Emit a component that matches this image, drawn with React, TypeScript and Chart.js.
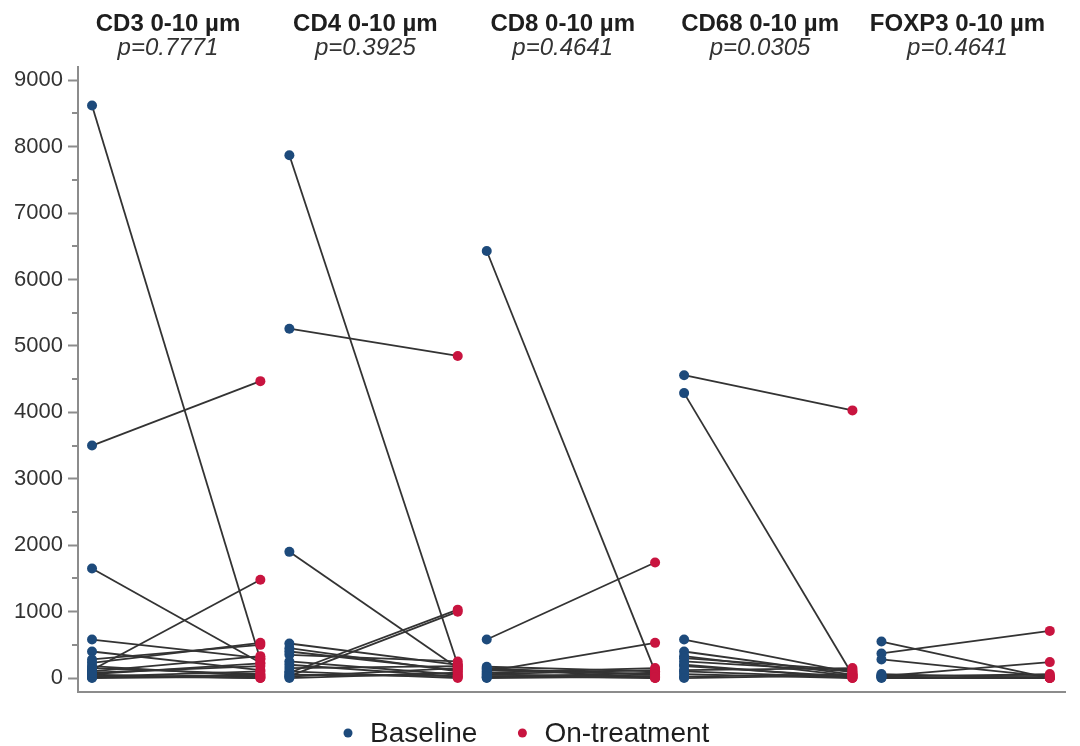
import React, { useEffect, useRef } from "react";
import { Chart, registerables } from "chart.js";

Chart.register(...registerables);

const panelTitles = ["CD3 0-10 µm", "CD4 0-10 µm", "CD8 0-10 µm", "CD68 0-10 µm", "FOXP3 0-10 µm"];
const pValues = ["p=0.7771", "p=0.3925", "p=0.4641", "p=0.0305", "p=0.4641"];
const legendLabels = ["Baseline", "On-treatment"];
const yTickValues = [0, 500, 1000, 1500, 2000, 2500, 3000, 3500, 4000, 4500, 5000, 5500, 6000, 6500, 7000, 7500, 8000, 8500, 9000];

const cd3Baseline = [8620, 3500, 1650, 580, 400, 120, 230, 180, 100, 60, 30, 20, 10, 0, 50, 150, 280, 80];
const cd3OnTreatment = [280, 4470, 230, 300, 120, 1480, 530, 30, 330, 220, 0, 100, 50, 20, 0, 60, 500, 180];

const cd4Baseline = [7870, 5260, 1900, 80, 30, 520, 450, 350, 250, 150, 100, 50, 20, 0, 200, 400];
const cd4OnTreatment = [200, 4850, 150, 1030, 1000, 200, 100, 250, 50, 180, 0, 30, 150, 80, 20, 120];

const cd8Baseline = [6430, 580, 100, 170, 120, 80, 50, 30, 10, 0, 150, 60, 140, 20];
const cd8OnTreatment = [100, 1740, 530, 100, 60, 150, 30, 0, 80, 20, 0, 120, 50, 10];

const cd68Baseline = [4560, 4290, 580, 400, 330, 250, 180, 120, 60, 20, 100, 0, 300, 200];
const cd68OnTreatment = [4030, 50, 80, 50, 30, 100, 20, 150, 0, 60, 10, 40, 120, 0];

const foxp3Baseline = [550, 370, 280, 30, 60, 0, 20, 10, 40];
const foxp3OnTreatment = [0, 710, 20, 240, 0, 0, 60, 0, 30];

const baselineSeries = [cd3Baseline, cd4Baseline, cd8Baseline, cd68Baseline, foxp3Baseline];
const onTreatmentSeries = [cd3OnTreatment, cd4OnTreatment, cd8OnTreatment, cd68OnTreatment, foxp3OnTreatment];

const BLUE = "#1d4a7b";
const RED = "#c8143f";
const LINE = "#333333";
const AXIS = "#8c8c8c";
const TEXT = "#1e1e1e";
const FONT = "'Liberation Sans', Arial, sans-serif";
const ON_OFFSET = 0.853;
const TITLE_OFFSET = 0.385;

const isMajor = (v: number) => v >= 0 && v <= 9000 && v % 1000 === 0;

export default function App() {
  const canvasRef = useRef<HTMLCanvasElement | null>(null);

  useEffect(() => {
    document.body.style.margin = "0";
    const canvas = canvasRef.current;
    if (!canvas) return;

    const datasets: any[] = [];
    const basePts: any[] = [];
    const onPts: any[] = [];
    baselineSeries.forEach((arr, i) => {
      arr.forEach((b, j) => {
        basePts.push({ x: i, y: b });
        onPts.push({ x: i + ON_OFFSET, y: onTreatmentSeries[i][j] });
      });
    });
    datasets.push({
      label: legendLabels[0],
      data: basePts,
      backgroundColor: BLUE,
      borderColor: BLUE,
      borderWidth: 0,
      pointRadius: 5,
      showLine: false,
      order: 0,
    });
    datasets.push({
      label: legendLabels[1],
      data: onPts,
      backgroundColor: RED,
      borderColor: RED,
      borderWidth: 0,
      pointRadius: 5,
      showLine: false,
      order: 0,
    });
    baselineSeries.forEach((arr, i) => {
      arr.forEach((b, j) => {
        datasets.push({
          label: "pair",
          data: [
            { x: i, y: b },
            { x: i + ON_OFFSET, y: onTreatmentSeries[i][j] },
          ],
          showLine: true,
          borderColor: LINE,
          borderWidth: 1.8,
          pointRadius: 0,
          order: 1,
        });
      });
    });

    const overlay = {
      id: "overlay",
      afterDraw(chart: any) {
        const ctx = chart.ctx;
        const xs = chart.scales.x;
        ctx.save();
        ctx.fillStyle = TEXT;
        ctx.textAlign = "center";
        ctx.textBaseline = "alphabetic";
        panelTitles.forEach((t, i) => {
          const cx = xs.getPixelForValue(i + TITLE_OFFSET);
          ctx.font = `bold 24px ${FONT}`;
          ctx.fillStyle = TEXT;
          ctx.fillText(t, cx, 31);
          ctx.font = `italic 24px ${FONT}`;
          ctx.fillStyle = "#333";
          ctx.fillText(pValues[i], cx, 55);
        });
        ctx.font = `28px ${FONT}`;
        ctx.textAlign = "left";
        ctx.textBaseline = "middle";
        const colors = [BLUE, RED];
        let x = 348;
        const ly = 733;
        legendLabels.forEach((lab, i) => {
          ctx.fillStyle = colors[i];
          ctx.beginPath();
          ctx.arc(x, ly, 4.5, 0, Math.PI * 2);
          ctx.fill();
          ctx.fillStyle = TEXT;
          ctx.fillText(lab, x + 22, ly + 1);
          x += 22 + ctx.measureText(lab).width + 45;
        });
        ctx.restore();
      },
    };

    const chart = new Chart(canvas, {
      type: "scatter",
      data: { datasets },
      options: {
        animation: false,
        responsive: false,
        layout: { padding: { left: 0, right: 15, top: 67, bottom: 54 } },
        plugins: {
          legend: { display: false },
          tooltip: { enabled: false },
          title: { display: false },
        },
        scales: {
          x: {
            type: "linear",
            min: -0.071,
            max: 4.93,
            ticks: { display: false },
            grid: { display: false, drawTicks: false },
            border: { display: true, color: AXIS, width: 2 },
            afterFit: (s: any) => {
              s.height = 0;
            },
          },
          y: {
            type: "linear",
            min: -210,
            max: 9200,
            afterFit: (s: any) => {
              s.width = 78;
            },
            afterBuildTicks: (s: any) => {
              s.ticks = yTickValues.map((v) => ({ value: v }));
            },
            ticks: {
              autoSkip: false,
              padding: 5,
              color: "#333",
              font: { family: FONT, size: 22 },
              callback: (v: any) => (isMajor(Number(v)) ? String(v) : ""),
            },
            grid: {
              display: true,
              drawOnChartArea: false,
              drawTicks: true,
              tickLength: 10,
              tickWidth: 2,
              tickColor: (c: any) => {
                const v = c.tick ? c.tick.value : NaN;
                return isMajor(v) ? AXIS : "rgba(0,0,0,0)";
              },
            },
            border: { display: true, color: AXIS, width: 2 },
          },
        },
      },
      plugins: [
        overlay,
        {
          id: "minorTicks",
          afterDraw(chart: any) {
            const ctx = chart.ctx;
            const ys = chart.scales.y;
            const area = chart.chartArea;
            ctx.save();
            ctx.strokeStyle = AXIS;
            ctx.lineWidth = 2;
            yTickValues.forEach((v) => {
              if (isMajor(v)) return;
              const y = Math.round(ys.getPixelForValue(v));
              ctx.beginPath();
              ctx.moveTo(area.left - 6, y);
              ctx.lineTo(area.left, y);
              ctx.stroke();
            });
            ctx.restore();
          },
        },
      ],
    });

    return () => chart.destroy();
  }, []);

  return (
    <div style={{ width: 1080, height: 746, position: "relative", background: "#fff" }}>
      <canvas ref={canvasRef} width={1080} height={746} style={{ width: 1080, height: 746, display: "block" }} />
    </div>
  );
}
